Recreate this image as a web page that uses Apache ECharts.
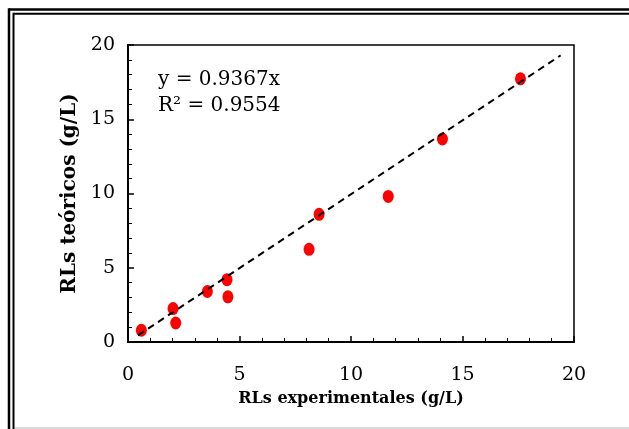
<!DOCTYPE html>
<html>
<head>
    <meta charset="utf-8">
    <title>RLs | ECharts</title>
    <script src="https://cdn.jsdelivr.net/npm/echarts@6/dist/echarts.min.js"></script>
    <style>
        html, body { margin: 0; padding: 0; background: #fff; }
    </style>
</head>
<body>
    <div id="main" style="width: 629px;height:429px;"></div>
    <script type="text/javascript">
        // datos
        var rlsExperimentales = [0.6, 2.02, 2.14, 3.56, 4.44, 4.48, 8.12, 8.57, 11.67, 14.1, 17.6];
        var rlsTeoricos       = [0.79, 2.25, 1.28, 3.4, 4.2, 3.04, 6.24, 8.6, 9.8, 13.67, 17.72];
        // linea de tendencia (extremos)
        var trendX = [0.45, 19.4];
        var trendY = [0.45, 19.3];
        var xTicks = [0, 5, 10, 15, 20];
        var yTicks = [0, 5, 10, 15, 20];

        var puntos = rlsExperimentales.map(function (x, i) { return [x, rlsTeoricos[i]]; });
        var tendencia = trendX.map(function (x, i) { return [x, trendY[i]]; });

        var serif = "'DejaVu Serif', serif";
        var myChart = echarts.init(document.getElementById('main'));

        function eje(ticks, extra) {
            var o = {
                type: 'value',
                min: ticks[0],
                max: ticks[ticks.length - 1],
                interval: ticks[1] - ticks[0],
                nameLocation: 'middle',
                axisLine: { show: true, onZero: false, lineStyle: { color: '#000', width: 2 } },
                axisTick: { show: true, inside: true, length: 6, lineStyle: { color: '#000', width: 1.5 } },
                minorTick: { show: true, splitNumber: 5, length: 4, lineStyle: { color: '#000', width: 1 } },
                splitLine: { show: false }
            };
            for (var k in extra) o[k] = extra[k];
            return o;
        }

        var option = {
            animation: false,
            backgroundColor: '#fff',
            grid: {
                left: 128, right: 55, top: 45, bottom: 87,
                show: true, borderColor: '#000', borderWidth: 1.5, backgroundColor: 'transparent'
            },
            xAxis: eje(xTicks, {
                name: 'RLs experimentales (g/L)',
                nameGap: 49,
                nameTextStyle: { color: '#000', fontFamily: serif, fontWeight: 'bold', fontSize: 16 },
                axisLabel: { color: '#000', fontFamily: serif, fontSize: 19, margin: 24 }
            }),
            yAxis: eje(yTicks, {
                name: 'RLs teóricos (g/L)',
                nameGap: 38,
                nameRotate: 90,
                nameTextStyle: { color: '#000', fontFamily: serif, fontWeight: 'bold', fontSize: 20 },
                axisLabel: { color: '#000', fontFamily: serif, fontSize: 19, margin: 13 }
            }),
            graphic: [
                // marco doble
                { type: 'line', shape: { x1: 9, y1: 9.5, x2: 629, y2: 9.5 }, style: { stroke: '#000', lineWidth: 2.5 } },
                { type: 'line', shape: { x1: 13.5, y1: 13.7, x2: 629, y2: 13.7 }, style: { stroke: '#000', lineWidth: 2 } },
                { type: 'line', shape: { x1: 9, y1: 8.3, x2: 9, y2: 429 }, style: { stroke: '#000', lineWidth: 2.5 } },
                { type: 'line', shape: { x1: 13.5, y1: 12.7, x2: 13.5, y2: 429 }, style: { stroke: '#000', lineWidth: 2 } },
                { type: 'line', shape: { x1: 15, y1: 428, x2: 629, y2: 428 }, style: { stroke: '#cccccc', lineWidth: 1.5 } },
                // ecuacion
                { type: 'text', left: 158, top: 70, style: { text: 'y = 0.9367x', fill: '#000', font: "20px 'DejaVu Serif'" } },
                { type: 'text', left: 158, top: 96, style: { text: 'R² = 0.9554', fill: '#000', font: "20px 'DejaVu Serif'" } }
            ],
            series: [
                {
                    type: 'scatter',
                    data: puntos,
                    symbol: 'circle',
                    symbolSize: [11, 13],
                    itemStyle: { color: '#ff0000', opacity: 1 },
                    z: 2
                },
                {
                    type: 'line',
                    data: tendencia,
                    showSymbol: false,
                    symbol: 'none',
                    lineStyle: { color: '#000', width: 2, type: [7, 5] },
                    z: 3
                }
            ]
        };

        myChart.setOption(option);
    </script>
</body>
</html>
